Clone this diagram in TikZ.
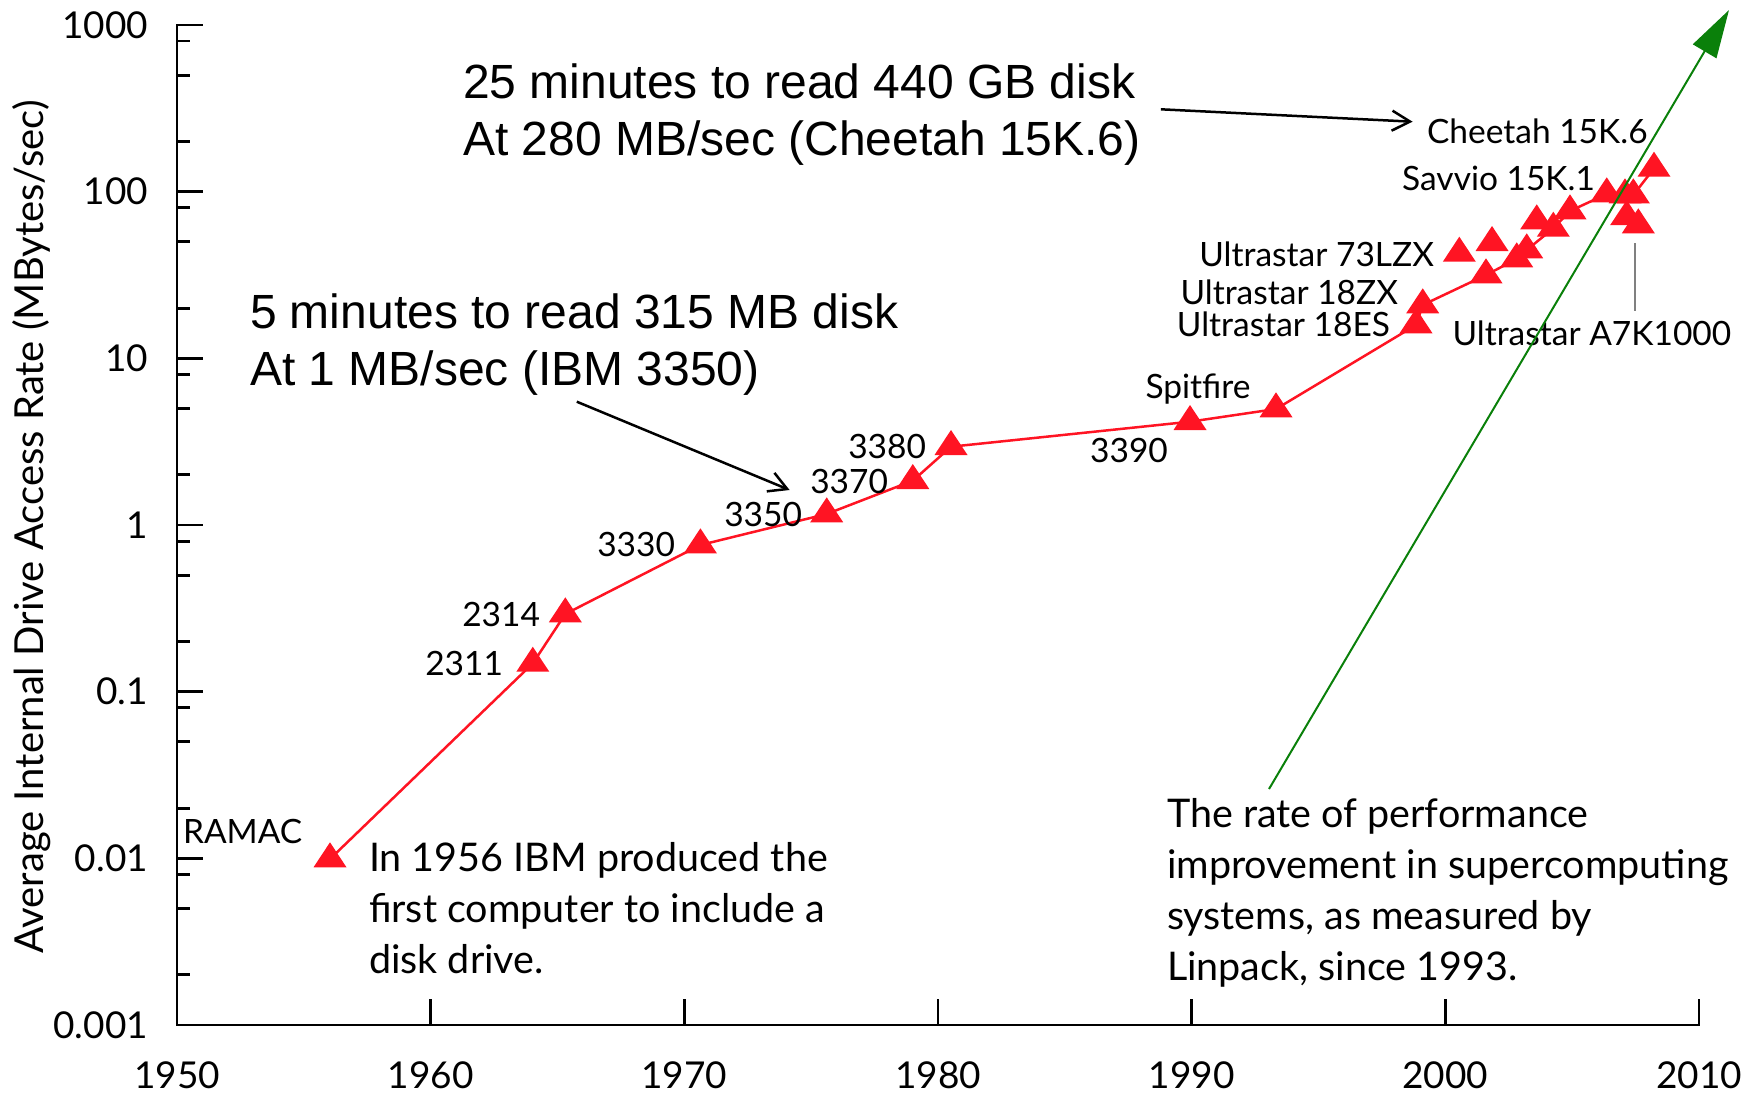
\documentclass[tikz,border=0pt]{standalone}
\usepackage{fontspec}
\setmainfont{Lato}
\newfontfamily\arialfont{Liberation Sans}
\usetikzlibrary{arrows.meta}
\definecolor{ptred}{RGB}{255,20,35}
\definecolor{arrgreen}{RGB}{10,128,10}
\definecolor{leadgray}{RGB}{128,128,128}
\begin{document}
\begin{tikzpicture}[x=1pt,y=-1pt,
  every node/.style={inner sep=0pt,outer sep=0pt},
  tri/.pic={\fill[ptred] (-16.5,8.3) -- (16.5,8.3) -- (0,-16.7) -- cycle;},
  datalbl/.style={font=\fontsize{33.5}{40}\selectfont},
  ticklbl/.style={font=\fontsize{37}{44}\selectfont},
  note/.style={font=\fontsize{39.5}{50.8}\selectfont,align=left},
  bignote/.style={font=\arialfont\fontsize{48}{57}\selectfont,align=left},
  axisline/.style={line width=2.7pt,line cap=rect},
  redline/.style={ptred,line width=2.5pt,line join=round},
  callout/.style={line width=2.5pt,-{Straight Barb[length=18pt,width=20pt]}},
  trend/.style={arrgreen,line width=2pt,-{Triangle[length=48pt,width=27pt]}},
  leader/.style={leadgray,line width=2pt}
]
\useasboundingbox (0,0) rectangle (1758,1094);

% axes
\draw[axisline] (177,25) -- (177,1025) -- (1699,1025);
\foreach \d in {0,...,5}{
  \pgfmathsetmacro{\yz}{1025-166.667*\d}
  \foreach \m in {0.30103,0.69897,0.90309}{
    \draw[axisline,line cap=butt] (177,{\yz-166.667*\m}) -- (190,{\yz-166.667*\m});
  }
  \draw[axisline,line cap=butt] (177,{\yz-166.667}) -- (203,{\yz-166.667});
}
\foreach \k in {1,...,6}{
  \draw[axisline,line cap=butt] ({177+253.67*\k},1025) -- ({177+253.67*\k},999);
}

% y tick labels
\foreach \lbl [count=\i from 0] in {1000,100,10,1,0.1,0.01,0.001}{
  \node[ticklbl,anchor=east] (yl\i) at (148,{25+166.667*\i}) {\lbl};
}
% x tick labels
\foreach \lbl [count=\i from 0] in {1950,1960,1970,1980,1990,2000,2010}{
  \node[ticklbl] (xl\i) at ({177+253.67*\i},1075) {\lbl};
}
% axis title
\node[font=\fontsize{40}{46}\selectfont,rotate=90,anchor=base] (ytitle) at (43,527)
  {Average Internal Drive Access Rate (MBytes/sec)};

% data points
\coordinate (ramac) at (330,859);
\coordinate (d2311) at (532.8,663.4);
\coordinate (d2314) at (565.3,614);
\coordinate (d3330) at (700.4,545);
\coordinate (d3350) at (826.7,514);
\coordinate (d3370) at (912.8,480.7);
\coordinate (d3380) at (951,446.7);
\coordinate (d3390) at (1190,421.7);
\coordinate (spit) at (1276,409);
\coordinate (es18) at (1416,325);
\coordinate (zx18) at (1422.7,305);
\coordinate (uh) at (1486,275);
\coordinate (ug) at (1516.7,259);
\coordinate (uf) at (1526.7,250);
\coordinate (ue) at (1553.3,228.4);
\coordinate (uc) at (1536.7,221);
\coordinate (ud) at (1570,211);
\coordinate (lzx) at (1459.3,253.4);
\coordinate (ub) at (1492,242.7);
\coordinate (sk) at (1606.7,194);
\coordinate (sl) at (1625,195);
\coordinate (sm) at (1633.3,195);
\coordinate (an) at (1626.7,216.7);
\coordinate (ao) at (1638.3,225);
\coordinate (cheet) at (1654,168.4);

\draw[redline] (ramac) -- (d2311) -- (d2314) -- (d3330) -- (d3350) -- (d3370)
  -- (d3380) -- (d3390) -- (spit) -- (es18) -- (zx18) -- (uh) -- (ug) -- (uf)
  -- (ue) -- (ud) -- (sk) -- (sl) -- (sm) -- (cheet);

\foreach \p in {ramac,d2311,d2314,d3330,d3350,d3370,d3380,d3390,spit,es18,zx18,
  uh,ug,uf,ue,uc,ud,lzx,ub,sk,sl,sm,an,ao,cheet}{
  \pic at (\p) {tri};
}

% data labels
\node[datalbl,anchor=base west] (lramac) at (183,843) {RAMAC};
\node[datalbl,anchor=base east] (l2311) at (503,675) {2311};
\node[datalbl,anchor=base east] (l2314) at (540,626.7) {2314};
\node[datalbl,anchor=base east] (l3330) at (675,556.7) {3330};
\node[datalbl,anchor=base east] (l3350) at (802,526.7) {3350};
\node[datalbl,anchor=base east] (l3370) at (888,493.3) {3370};
\node[datalbl,anchor=base east] (l3380) at (926,458.3) {3380};
\node[datalbl,anchor=base] (l3390) at (1129,462) {3390};
\node[datalbl,anchor=base] (lspit) at (1198,398) {Spitfire};
\node[datalbl,anchor=base west] (lcheet) at (1427,144) {Cheetah 15K.6};
\node[datalbl,anchor=base east] (lsav) at (1595,190) {Savvio 15K.1};
\node[datalbl,anchor=base east] (llzx) at (1434,266) {Ultrastar 73LZX};
\node[datalbl,anchor=base east] (lzx18) at (1398,304) {Ultrastar 18ZX};
\node[datalbl,anchor=base east] (les18) at (1390,336) {Ultrastar 18ES};
\node[datalbl,anchor=base west] (la7k) at (1452.5,345) {Ultrastar A7K1000};

% A7K1000 leader
\coordinate (a7top) at (1635,243);
\coordinate (a7bot) at (1635,311);
\draw[leader] (a7top) -- (a7bot);

% green trend arrow
\coordinate (gstart) at (1269,789);
\coordinate (gend) at (1729,10);
\draw[trend] (gstart) -- (gend);

% annotations (anchored at the baseline of their last line)
\node[bignote,anchor=base west] (big1) at (463,156)
  {25 minutes to read 440 GB disk\\At 280 MB/sec (Cheetah 15K.6)};
\node[bignote,anchor=base west] (big2) at (250,385)
  {5 minutes to read 315 MB disk\\At 1 MB/sec (IBM 3350)};
\node[note,anchor=base west] (ibm) at (369,973)
  {In 1956 IBM produced the\\first computer to include a\\disk drive.};
\node[note,anchor=base west] (rate) at (1167,980)
  {The rate of performance\\improvement in supercomputing\\systems, as measured by\\Linpack, since 1993.};

% callout arrows
\coordinate (c1s) at (1160.8,109.3);
\coordinate (c1e) at (1412.6,121.7);
\draw[callout] (c1s) -- (c1e);
\coordinate (c2s) at (576.8,401.7);
\coordinate (c2e) at (789.6,490);
\draw[callout] (c2s) -- (c2e);
\end{tikzpicture}
\end{document}
